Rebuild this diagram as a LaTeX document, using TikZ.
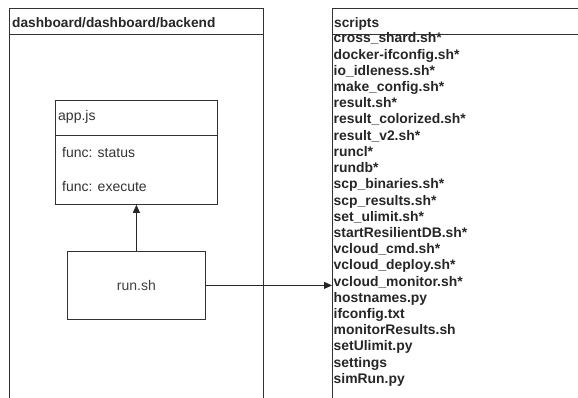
\documentclass[tikz,border=0pt]{standalone}
\usepackage{fontspec}
\setmainfont{Liberation Sans}
\usetikzlibrary{arrows.meta, positioning}

\begin{document}
\begin{tikzpicture}[
        x=1pt, y=-1pt,
        % --- Styles ---
        frame/.style={rectangle, draw=black!80, line width=0.8pt, inner sep=0pt, anchor=north west},
        title/.style={anchor=base west, inner sep=0pt, font=\fontsize{13.7}{16}\selectfont\bfseries, text=black!85},
        entry/.style={anchor=base west, inner sep=0pt, font=\fontsize{14}{16}\selectfont, text=black!80},
        item/.style={anchor=base west, inner sep=0pt, font=\fontsize{13.9}{16}\selectfont\bfseries, text=black!85},
        line/.style={draw=black!85, line width=0.8pt, -{Triangle[length=8pt, width=7pt]}}
    ]
        \useasboundingbox (0,0) rectangle (578,398);

        % --- Containers ---
        \node[frame, minimum width=254pt, minimum height=420pt] (backend) at (9,8) {};
        \draw[black!80, line width=0.8pt] (9,34) -- (263,34);
        \node[title] (backendtitle) at (12,28) {dashboard/dashboard/backend};

        \node[frame, minimum width=280pt, minimum height=420pt] (scripts) at (332,8) {};
        \draw[black!80, line width=0.8pt] (332,34) -- (612,34);
        \node[title] (scriptstitle) at (334,28) {scripts};

        % --- app.js ---
        \node[frame, minimum width=162pt, minimum height=104pt] (app) at (55,100) {};
        \draw[black!80, line width=0.8pt] (55,135) -- (217,135);
        \node[entry] (appname) at (58,121) {app.js};
        \node[entry] (status) at (62,158) {func: status};
        \node[entry] (execute) at (62,192) {func: execute};

        % --- run.sh ---
        \node[frame, minimum width=138pt, minimum height=68pt] (run) at (67,251) {};
        \node[font=\fontsize{14}{16}\selectfont, text=black!75] at (run.center) {run.sh};

        % --- Script list ---
        \foreach \f [count=\i] in {cross\_shard.sh*, docker-ifconfig.sh*, io\_idleness.sh*,
                make\_config.sh*, result.sh*, result\_colorized.sh*, result\_v2.sh*, runcl*,
                rundb*, scp\_binaries.sh*, scp\_results.sh*, set\_ulimit.sh*,
                startResilientDB.sh*, vcloud\_cmd.sh*, vcloud\_deploy.sh*,
                vcloud\_monitor.sh*, hostnames.py, ifconfig.txt, monitorResults.sh,
                setUlimit.py, settings, simRun.py}
            \node[item] (f\i) at (333.5, {43+16.2*(\i-1)}) {\f};

        % --- Connections ---
        \draw[line] (run.north) -- (app.south);
        \draw[line] (run.east) -- (run.east -| scripts.west);

    \end{tikzpicture}
\end{document}
